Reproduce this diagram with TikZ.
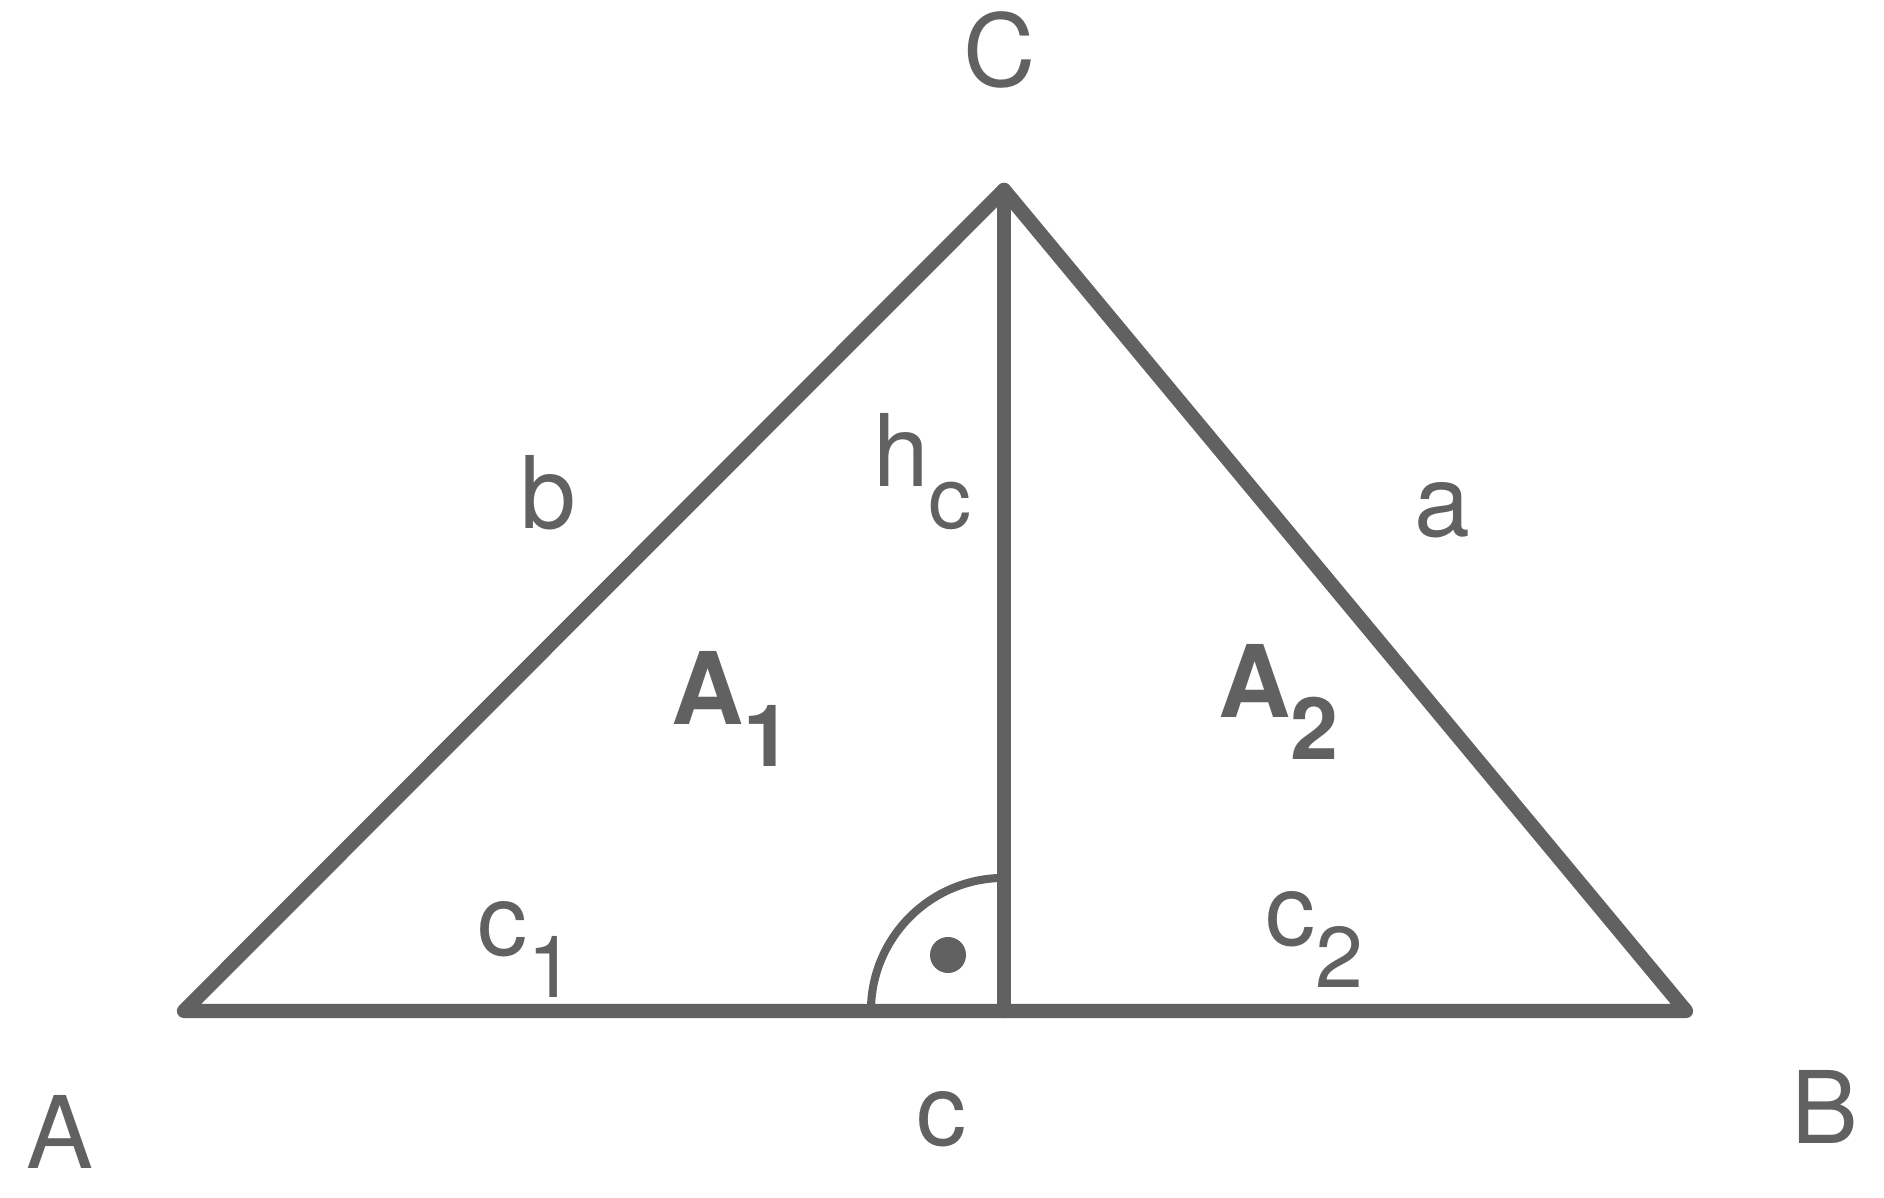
\documentclass[tikz,border=0pt]{standalone}
\usepackage{fontspec}
\setmainfont{TeX Gyre Heros}
\definecolor{dgray}{HTML}{616161}
\newcommand{\subidx}[1]{\raisebox{-11.9pt}{\fontsize{24.5}{29}\selectfont #1}}

\begin{document}
\begin{tikzpicture}[x=0.01cm,y=-0.01cm,line width=4.1pt,color=dgray,line cap=round,line join=round,
    every node/.style={inner sep=0pt,font=\fontsize{28.5}{34}\selectfont}]
  \useasboundingbox (0,0) rectangle (1884,1198);
  \coordinate (A) at (184,1011);
  \coordinate (B) at (1686,1011);
  \coordinate (C) at (1004,190);
  \coordinate (F) at (1004,1011);
  \node (lA)  [anchor=base]      at (60,1169)  {A};
  \node (lB)  [anchor=base]      at (1825,1144) {B};
  \node (lC)  [anchor=base]      at (1000,87)  {C};
  \node (lc)  [anchor=base]      at (942,1146) {c};
  \node (lb)  [anchor=base]      at (548,529)  {b};
  \node (la)  [anchor=base]      at (1442,537) {a};
  \node (lh)  [anchor=base west] at (866,487)  {h\subidx{c}};
  \node (lA1) [anchor=base west] at (664,725)  {\bfseries A\subidx{1}};
  \node (lA2) [anchor=base west] at (1211,718) {\bfseries A\subidx{2}};
  \node (lc1) [anchor=base west] at (470,956)  {c\subidx{1}};
  \node (lc2) [anchor=base west] at (1258,946) {c\subidx{2}};
  \draw (A) -- (B) -- (C) -- cycle;
  \draw (C) -- (F);
  \draw[line width=2.3pt,line cap=butt] ([xshift=-1.33cm]F) arc[start angle=180,end angle=90,radius=1.33cm];
  \fill (948,955) circle[radius=0.18cm];
\end{tikzpicture}
\end{document}
